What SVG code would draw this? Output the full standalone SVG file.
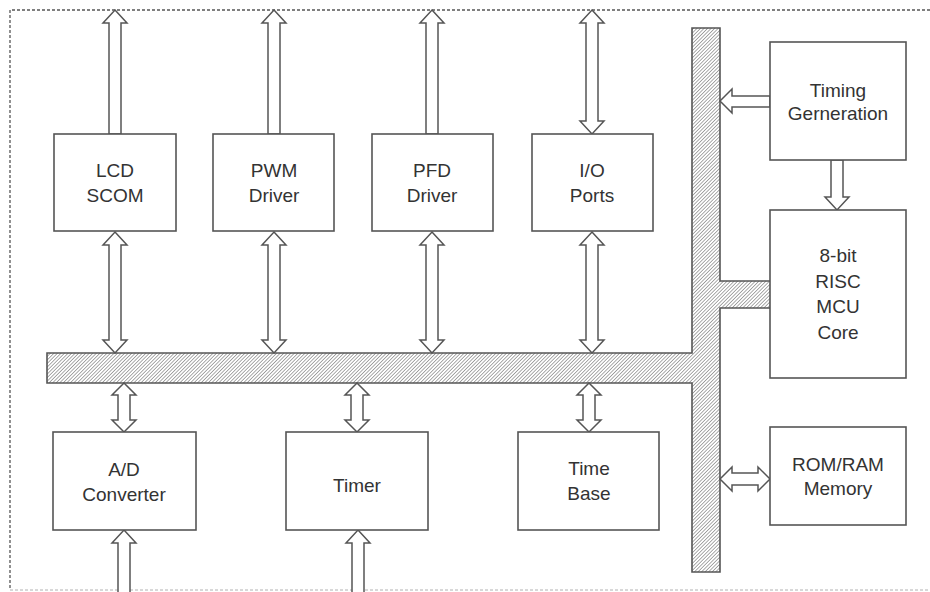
<svg xmlns="http://www.w3.org/2000/svg" width="930" height="592" viewBox="0 0 930 592">
<style>
.box{fill:#fff;stroke:#555;stroke-width:1.6}
.arr{fill:#fff;stroke:#555;stroke-width:1.5;stroke-linejoin:miter}
.bus{fill:url(#hatch);stroke:#555;stroke-width:1.6}
text{font-family:"Liberation Sans",Arial,sans-serif;font-size:19px;fill:#333;text-anchor:middle}
</style>
<defs>
<pattern id="hatch" patternUnits="userSpaceOnUse" width="2.5" height="2.5" patternTransform="rotate(45)">
<rect width="2.5" height="2.5" fill="#fff"/>
<line x1="0" y1="0" x2="0" y2="2.5" stroke="#555" stroke-width="1"/>
</pattern>
</defs>
<rect width="930" height="592" fill="#fff"/>
<path d="M940,10 H10 V590" fill="none" stroke="#555" stroke-width="1.3" stroke-dasharray="3,2"/>
<path d="M10,590 H940" fill="none" stroke="#ccc" stroke-width="1.3" stroke-dasharray="3,2"/>

<g id="bus">
<path class="bus" d="M47,353 H692 V28 H720 V281 H771 V308 H720 V572 H692 V383 H47 Z"/>
</g>

<g id="connectors">
<path class="arr" d="M115,10 L127,23 L121,23 L121,134 L109,134 L109,23 L103,23 Z"/>
<path class="arr" d="M274,10 L286,23 L280,23 L280,134 L268,134 L268,23 L262,23 Z"/>
<path class="arr" d="M432,10 L444,23 L438,23 L438,134 L426,134 L426,23 L420,23 Z"/>
<path class="arr" d="M592,10 L604,23 L598,23 L598,121 L604,121 L592,134 L580,121 L586,121 L586,23 L580,23 Z"/>
<path class="arr" d="M115,232 L127,245 L121,245 L121,340 L127,340 L115,353 L103,340 L109,340 L109,245 L103,245 Z"/>
<path class="arr" d="M274,232 L286,245 L280,245 L280,340 L286,340 L274,353 L262,340 L268,340 L268,245 L262,245 Z"/>
<path class="arr" d="M432,232 L444,245 L438,245 L438,340 L444,340 L432,353 L420,340 L426,340 L426,245 L420,245 Z"/>
<path class="arr" d="M592,232 L604,245 L598,245 L598,340 L604,340 L592,353 L580,340 L586,340 L586,245 L580,245 Z"/>
<path class="arr" d="M124,383 L136,395 L130,395 L130,420 L136,420 L124,432 L112,420 L118,420 L118,395 L112,395 Z"/>
<path class="arr" d="M357,383 L369,395 L363,395 L363,420 L369,420 L357,432 L345,420 L351,420 L351,395 L345,395 Z"/>
<path class="arr" d="M589,383 L601,395 L595,395 L595,420 L601,420 L589,432 L577,420 L583,420 L583,395 L577,395 Z"/>
<path class="arr" d="M124,530 L136,543 L130,543 L130,593 L118,593 L118,543 L112,543 Z"/>
<path class="arr" d="M358,530 L370,543 L364,543 L364,593 L352,593 L352,543 L346,543 Z"/>
<path class="arr" d="M720,101 L732,89 L732,96 L770,96 L770,107 L732,107 L732,113 Z"/>
<path class="arr" d="M831,160 L843,160 L843,197 L849,197 L837,210 L825,197 L831,197 Z"/>
<path class="arr" d="M720,479 L732,467 L732,473 L758,473 L758,467 L770,479 L758,491 L758,485 L732,485 L732,491 Z"/>
</g>

<g id="lcd"><rect class="box" x="54" y="134" width="122" height="97"/><text x="115" y="177">LCD</text><text x="115" y="202">SCOM</text></g>
<g id="pwm"><rect class="box" x="213" y="134" width="121" height="97"/><text x="274" y="177">PWM</text><text x="274" y="202">Driver</text></g>
<g id="pfd"><rect class="box" x="372" y="134" width="121" height="97"/><text x="432" y="177">PFD</text><text x="432" y="202">Driver</text></g>
<g id="io"><rect class="box" x="532" y="134" width="121" height="97"/><text x="592" y="177">I/O</text><text x="592" y="202">Ports</text></g>
<g id="timing"><rect class="box" x="770" y="42" width="136" height="118"/><text x="838" y="97">Timing</text><text x="838" y="120">Gerneration</text></g>
<g id="mcu"><rect class="box" x="770" y="210" width="136" height="168"/><text x="838" y="262">8-bit</text><text x="838" y="288">RISC</text><text x="838" y="313">MCU</text><text x="838" y="339">Core</text></g>
<g id="mem"><rect class="box" x="770" y="427" width="136" height="98"/><text x="838" y="471">ROM/RAM</text><text x="838" y="495">Memory</text></g>
<g id="adc"><rect class="box" x="53" y="432" width="143" height="98"/><text x="124" y="476">A/D</text><text x="124" y="501">Converter</text></g>
<g id="timer"><rect class="box" x="286" y="432" width="142" height="98"/><text x="357" y="492">Timer</text></g>
<g id="timebase"><rect class="box" x="518" y="432" width="141" height="98"/><text x="589" y="475">Time</text><text x="589" y="500">Base</text></g>
</svg>
